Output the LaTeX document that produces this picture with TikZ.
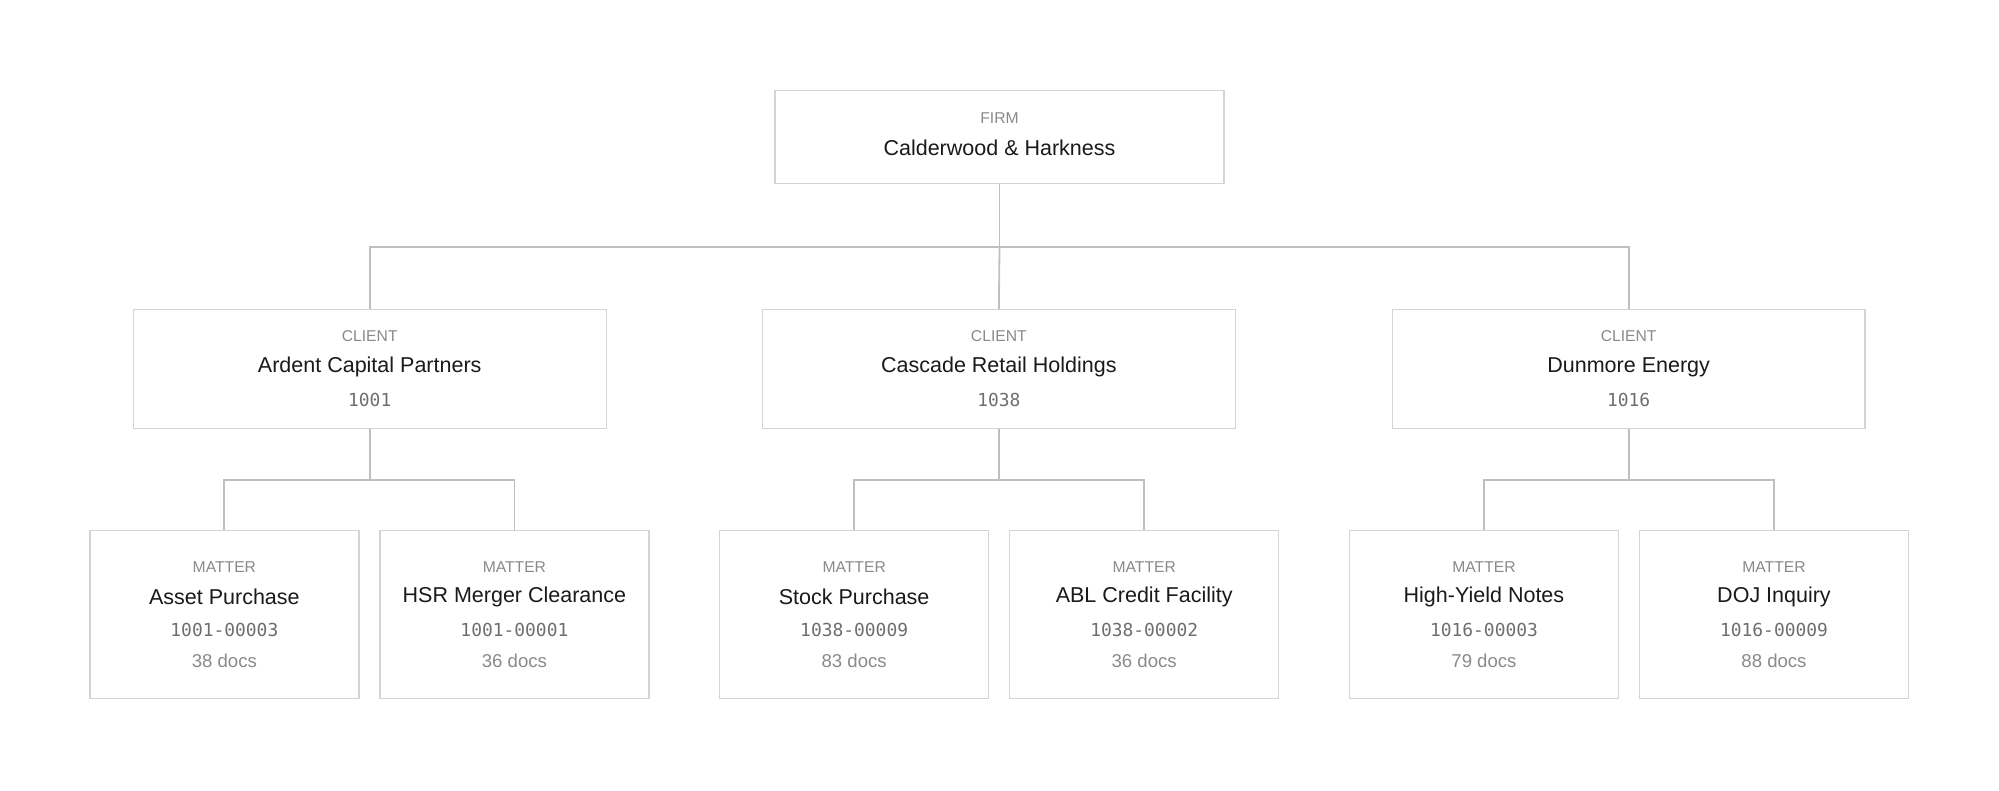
\documentclass[tikz,border=0pt]{standalone}
\usetikzlibrary{calc}
\usepackage{fontspec}
\setmainfont{Liberation Sans}
\setmonofont{DejaVu Sans Mono}
\definecolor{bord}{HTML}{D4D4D4}
\definecolor{lbl}{HTML}{8A8A8A}
\definecolor{txt}{HTML}{1A1A1A}
\begin{document}
\begin{tikzpicture}[x=0.02cm,y=-0.02cm,
  box/.style={draw=bord,line width=0.6pt,fill=white,inner sep=0},
  conn/.style={draw=bord!90!black,line width=0.8pt},
  lab/.style={font=\fontsize{7}{8}\selectfont,text=lbl},
  nm/.style={font=\fontsize{9.6}{11}\selectfont,text=txt},
  cd/.style={font=\ttfamily\fontsize{8}{10}\selectfont,text=lbl!80!black},
  dc/.style={font=\fontsize{8.3}{10}\selectfont,text=lbl}]
\useasboundingbox (0,0) rectangle (1568,620);
% firm
\node[box,minimum width=352*0.02cm,minimum height=73*0.02cm] (firm) at (784,107.5) {};
\node[lab] at (784,93) {FIRM};
\node[nm] at (784,116) {Calderwood \& Harkness};
\coordinate (bus) at (784,194);
% clients
\foreach \n/\x/\name/\code in {c1/290/Ardent Capital Partners/1001,c2/783.5/Cascade Retail Holdings/1038,c3/1277.5/Dunmore Energy/1016}{
  \node[box,minimum width=371*0.02cm,minimum height=93*0.02cm] (\n) at (\x,289.5) {};
  \node[lab] at (\x,264) {CLIENT};
  \node[nm] at (\x,288) {\name};
  \node[cd] at (\x,314) {\code};
}
\draw[conn] (firm.south) -- (bus);
\draw[conn] (c1.north) |- (bus) -| (c3.north);
\draw[conn] (bus) -- (c2.north);
% matters
\foreach \n/\p/\x/\name/\code/\docs in {
  m1/c1/176/Asset Purchase/1001-00003/38,
  m2/c1/403.5/HSR Merger Clearance/1001-00001/36,
  m3/c2/670/Stock Purchase/1038-00009/83,
  m4/c2/897.5/ABL Credit Facility/1038-00002/36,
  m5/c3/1164/High-Yield Notes/1016-00003/79,
  m6/c3/1391.5/DOJ Inquiry/1016-00009/88}{
  \node[box,minimum width=211*0.02cm,minimum height=132*0.02cm] (\n) at (\x,482) {};
  \node[lab] at (\x,445) {MATTER};
  \node[nm] at (\x,468) {\name};
  \node[cd] at (\x,494) {\code};
  \node[dc] at (\x,518) {\docs{} docs};
}
\foreach \p/\a/\b in {c1/m1/m2,c2/m3/m4,c3/m5/m6}{
  \coordinate (j\p) at ($(\p.south)+(0,40)$);
  \draw[conn] (\p.south) -- (j\p);
  \draw[conn] (\a.north) |- (j\p) -| (\b.north);
}
\end{tikzpicture}
\end{document}
